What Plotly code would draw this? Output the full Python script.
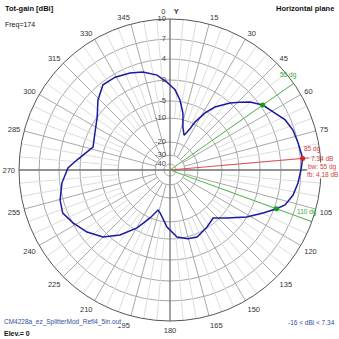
import numpy as np
import plotly.graph_objects as go

# ---- data ----
azimuth_deg = [0, 3.6, 8.1, 12.8, 16.8, 22, 24, 26, 27.5, 31.6, 35.5, 41.8, 45.8, 49.6,
               55, 60.6, 66.5, 72, 78.1, 85, 90, 95.8, 101.5, 106.9, 110, 114.8, 121.4,
               130.1, 138.1, 147, 158, 165.4, 174, 183, 193, 196.7, 202.6, 209.6, 217.6,
               225, 233.2, 241.4, 248.1, 254.7, 263.1, 271.1, 276.1, 286.6, 296.3, 306,
               314.2, 321.8, 329.4, 337.6, 344.6, 352.2, 358, 360]
gain_dbi = [-1.2, -2.3, -4.6, -8.1, -13.0, -16.0, -14.5, -12.3, -9.4, -5.6, -3.0, 0.0, 1.4, 2.85,
            4.34, 5.1, 6.2, 6.75, 7.0, 7.34, 7.0, 6.66, 6.2, 5.4, 4.34, 2.4, 0.0,
            -3.7, -6.3, -5.3, -4.2, -4.5, -5.5, -8.5, -13.3, -14.2, -10.0, -5.7, -1.9,
            0.9, 2.6, 3.9, 4.7, 4.45, 3.6, 2.3, 0.7, -2.3, -1.5, 0.0,
            2.0, 3.5, 3.4, 2.85, 2.2, 1.1, -0.5, -1.2]

ring_db = [10, 7, 4, 0, -5, -10, -20, -30, -40]
ring_frac = [1.0, 0.867, 0.735, 0.596, 0.457, 0.344, 0.185, 0.099, 0.04]
angle_ticks = list(range(0, 360, 15))

max_az, max_gain = 85, 7.34
bw_az = [55, 110]
bw_gain = 4.34

def to_r(db):
    return np.interp(db, ring_db[::-1], ring_frac[::-1])

W = H = 339
def px(x):
    return x / W
def py(y):
    return 1 - y / H

fig = go.Figure()

# light 5-degree spokes
r_l, t_l = [], []
for a in range(0, 360, 5):
    if a % 15:
        r_l += [to_r(-10), 1.0, None]
        t_l += [a, a, None]
fig.add_trace(go.Scatterpolar(r=r_l, theta=t_l, mode="lines",
                              line=dict(color="#dcdcdc", width=1), hoverinfo="skip"))
# 15-degree spokes
r_m, t_m = [], []
for a in angle_ticks:
    if a % 90:
        r_m += [to_r(-30), 1.0, None]
        t_m += [a, a, None]
fig.add_trace(go.Scatterpolar(r=r_m, theta=t_m, mode="lines",
                              line=dict(color="#a8a8a8", width=1), hoverinfo="skip"))
# main axes
fig.add_trace(go.Scatterpolar(r=[1.06, 0, 1.06, None, 1.06, 0, 1.06],
                              theta=[0, 0, 180, None, 90, 90, 270], mode="lines",
                              line=dict(color="#707070", width=1.3), hoverinfo="skip",
                              cliponaxis=False))
# beamwidth lines
for a in bw_az:
    fig.add_trace(go.Scatterpolar(r=[0, 1.0], theta=[a, a], mode="lines",
                                  line=dict(color="#50b850", width=1), hoverinfo="skip",
                                  cliponaxis=False))
# max line
fig.add_trace(go.Scatterpolar(r=[0, 0.925], theta=[max_az, max_az], mode="lines",
                              line=dict(color="#e05050", width=1), hoverinfo="skip",
                              cliponaxis=False))
# pattern
fig.add_trace(go.Scatterpolar(r=to_r(np.array(gain_dbi)), theta=azimuth_deg, mode="lines",
                              line=dict(color="#1a1aa0", width=1.5), hoverinfo="skip"))
# markers
fig.add_trace(go.Scatterpolar(r=to_r(np.array([bw_gain, bw_gain])), theta=bw_az, mode="markers",
                              marker=dict(color="#10a010", size=5), hoverinfo="skip"))
fig.add_trace(go.Scatterpolar(r=[to_r(max_gain)], theta=[max_az], mode="markers",
                              marker=dict(color="#e02020", size=5), hoverinfo="skip"))
# radial labels
fig.add_trace(go.Scatterpolar(r=ring_frac, theta=[0] * len(ring_frac), mode="text",
                              text=[f"{v}  " for v in ring_db], textposition="middle left",
                              textfont=dict(family="Liberation Sans", size=7.5, color="#444"),
                              hoverinfo="skip", cliponaxis=False))

ticktext = [str(a) for a in angle_ticks]
ticktext[0] = "0    <b>Y</b>"

fig.update_layout(
    width=W, height=H, margin=dict(l=0, r=0, t=0, b=0),
    paper_bgcolor="white", plot_bgcolor="white", showlegend=False,
    font=dict(family="Liberation Sans", color="#222"),
    polar=dict(
        domain=dict(x=[px(19), px(321)], y=[py(321), py(19)]),
        bgcolor="white",
        radialaxis=dict(range=[0, 1], tickvals=ring_frac[1:], showticklabels=False,
                        showline=False, ticks="", gridcolor="#a8a8a8", gridwidth=1),
        angularaxis=dict(rotation=90, direction="clockwise", tickvals=angle_ticks,
                         ticktext=ticktext, showgrid=False, showline=True,
                         linecolor="#555", linewidth=1, ticks="outside", ticklen=2,
                         tickcolor="rgba(0,0,0,0)",
                         tickfont=dict(family="Liberation Sans", size=7.5, color="#333")),
    ),
)

def ann(text, x, y, size, color="#111", xanchor="left", yanchor="middle", bg=None):
    fig.add_annotation(text=text, x=px(x), y=py(y), xref="paper", yref="paper",
                       showarrow=False, xanchor=xanchor, yanchor=yanchor,
                       bgcolor=bg, borderpad=0,
                       font=dict(family="Liberation Sans", size=size, color=color))

ann("<b>Tot-gain [dBi]</b>", 4, 8, 7.5)
ann("Freq=174", 4, 25, 7)
ann("<b>Horizontal plane</b>", 335, 8, 7.5, xanchor="right")
ann("CM4228a_ez_SplitterMod_Refl4_5in.out", 3, 322, 6.5, color="#3050a0", bg="white")
ann("<b>Elev.= 0</b>", 3, 333, 7)
ann("-16 &lt; dBi &lt; 7.34", 336, 322, 6.5, color="#3050a0", xanchor="right")

red = "#d04040"
green = "#30a830"
ann("55 dg", 288, 75, 6.5, color=green, xanchor="center")
ann("110 dg", 307, 212, 6.5, color=green, xanchor="center")
ann("85 dg", 312, 149, 6.5, color=red, xanchor="center")
ann("7.34 dB", 310, 158, 6.5, color=red)
ann("bw: 55 dg", 307, 167, 6.5, color=red, bg="white")
ann("fb: 4.18 dB", 306, 175, 6.5, color=red, bg="white")

fig.write_html("out.html")
